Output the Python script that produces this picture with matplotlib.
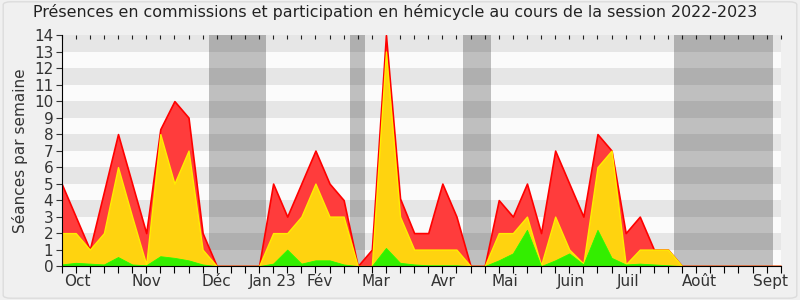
import matplotlib.pyplot as plt
import matplotlib.transforms as mtransforms
from matplotlib.patches import FancyBboxPatch

# weekly values (stacked tops), week 0 = end of sept 2022
weeks = list(range(52))
red_top = [5, 3, 1, 4.5, 8, 5, 2, 8.3, 10, 9, 2, 0, 0, 0, 0, 5, 3, 5, 7, 5,
           4, 0, 1, 14, 4.1, 2, 2, 5, 3, 0, 0, 4, 3, 5, 2, 7, 5, 3, 8, 7,
           2, 3, 1, 1, 0, 0, 0, 0, 0, 0, 0, 0]
yellow_top = [2, 2, 1, 2, 6, 3, 0.1, 8, 5, 7, 1, 0, 0, 0, 0, 2, 2, 3, 5, 3,
              3, 0, 0, 13, 3, 1, 1, 1, 1, 0, 0, 2, 2, 3, 0.05, 3, 1, 0.15, 6, 7,
              0.1, 1, 1, 1, 0, 0, 0, 0, 0, 0, 0, 0]
green_top = [0.1, 0.2, 0.15, 0.1, 0.55, 0.1, 0.05, 0.6, 0.5, 0.35, 0.1, 0, 0, 0, 0, 0.15, 1, 0.15, 0.35, 0.35,
             0.1, 0, 0, 1.1, 0.2, 0.1, 0.05, 0.05, 0.05, 0, 0, 0.35, 0.77, 2.2, 0, 0.35, 0.77, 0.1, 2.2, 0.5,
             0.1, 0.15, 0.1, 0.05, 0, 0, 0, 0, 0, 0, 0, 0]

vacances = [(10.45, 14.5), (20.45, 21.5), (28.45, 30.45), (43.45, 50.45)]
month_labels = ['Oct', 'Nov', 'Déc', 'Jan 23', 'Fév', 'Mar', 'Avr', 'Mai', 'Juin', 'Juil', 'Août', 'Sept']
month_pos = [1.14, 6.0, 11.0, 15.0, 18.3, 22.3, 27.1, 31.4, 36.1, 40.2, 45.2, 50.3]

fig = plt.figure(figsize=(8, 3), dpi=100, facecolor='#f0f0f0')
fig.patches.append(FancyBboxPatch((0.004, 0.006), 0.992, 0.988, boxstyle='round,pad=0,rounding_size=0.01',
                                  transform=fig.transFigure, facecolor='none', edgecolor='#dcdcdc', lw=1))
ax = fig.add_axes([0.077, 0.113, 0.899, 0.77])
ax.set_facecolor('#fbfbfb')

for i in range(1, 14, 2):
    ax.axhspan(i, i + 1, color='#e6e6e6', lw=0, zorder=0)
for a, b in vacances:
    ax.axvspan(a, b, color='black', alpha=0.24, lw=0, zorder=1)

ax.fill_between(weeks, 0, red_top, facecolor='#ff3c3c', edgecolor='#ff0000', lw=1.2, zorder=2)
ax.fill_between(weeks, 0, yellow_top, facecolor='#ffd30f', edgecolor='#ffee00', lw=1, zorder=3)
ax.fill_between(weeks, 0, green_top, facecolor='#33ee00', edgecolor='#22ff00', lw=0.6, zorder=4)

ax.set_xlim(0, 51)
ax.set_ylim(0, 14)
ax.set_yticks(range(15))
ax.set_xticks(weeks)
ax.set_xticklabels([])
trans = mtransforms.blended_transform_factory(ax.transData, ax.transAxes)
for pos, lab in zip(month_pos, month_labels):
    ax.text(pos, -0.035, lab, transform=trans, ha='center', va='top', fontsize=11, color='#333333')
ax.tick_params(axis='x', which='major', length=5, color='black', direction='out')
ax.tick_params(axis='y', length=4, labelsize=11, colors='#333333', pad=2)
top = ax.secondary_xaxis('top')
top.set_xticks(weeks)
top.set_xticklabels([])
top.tick_params(direction='in', length=3, color='#222222')
top.spines['top'].set_visible(False)
for s in ['top', 'right']:
    ax.spines[s].set_visible(False)
for s in ['left', 'bottom']:
    ax.spines[s].set_zorder(10)
ax.set_ylabel('Séances par semaine', fontsize=11, color='#333333', labelpad=4)
fig.suptitle('Présences en commissions et participation en hémicycle au cours de la session 2022-2023',
             fontsize=11.4, x=0.494, y=0.985, color='#222222')

fig.savefig('out.png', dpi=100, facecolor=fig.get_facecolor())
